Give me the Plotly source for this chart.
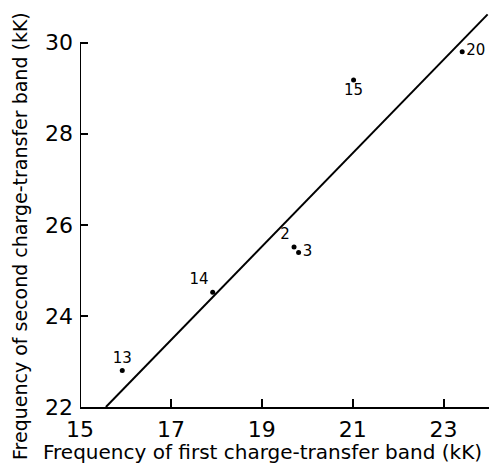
import plotly.graph_objects as go

# Data
labels = ["13", "14", "2", "3", "15", "20"]
first_band = [15.93, 17.92, 19.71, 19.81, 21.02, 23.41]
second_band = [22.80, 24.52, 25.51, 25.39, 29.18, 29.80]
label_pos = ["top center", "top left", "top left", "middle right", "bottom center", "middle right"]

fit_x = [15.57, 23.97]
fit_y = [22.0, 30.62]

x_ticks = [15, 17, 19, 21, 23]
y_ticks = [22, 24, 26, 28, 30]

FONT = "DejaVu Sans"

fig = go.Figure()
fig.add_trace(go.Scatter(x=fit_x, y=fit_y, mode="lines",
                         line=dict(color="black", width=2), showlegend=False))
fig.add_trace(go.Scatter(x=first_band, y=second_band, mode="markers+text",
                         marker=dict(color="black", size=5),
                         text=labels, textposition=label_pos,
                         textfont=dict(family=FONT, size=15, color="black"),
                         cliponaxis=False, showlegend=False))

# y axis line only up to 30
fig.add_shape(type="line", x0=15, x1=15, y0=22, y1=30, xref="x", yref="y",
              line=dict(color="black", width=2))

fig.update_layout(
    width=492, height=472,
    margin=dict(l=80, r=3, t=13, b=65),
    plot_bgcolor="white", paper_bgcolor="white",
    font=dict(family=FONT, color="black"),
    xaxis=dict(range=[15, 24], tickvals=x_ticks, ticks="inside", ticklen=8,
               tickwidth=1.5, tickcolor="black", showgrid=False, zeroline=False,
               showline=True, linecolor="black", linewidth=2,
               tickfont=dict(family=FONT, size=22), ticklabelstandoff=2),
    yaxis=dict(range=[22, 30.65], tickvals=y_ticks, ticks="inside", ticklen=8,
               tickwidth=1.5, tickcolor="black", showgrid=False, zeroline=False,
               showline=False,
               tickfont=dict(family=FONT, size=22), ticklabelstandoff=6),
    annotations=[
        dict(text="Frequency of first charge-transfer band (kK)", xref="paper", yref="paper",
             x=(262 - 80) / 409, y=-(452 - 407) / 394, xanchor="center", yanchor="middle",
             showarrow=False, font=dict(family=FONT, size=20)),
        dict(text="Frequency of second charge-transfer band (kK)", xref="paper", yref="paper",
             x=-(80 - 20) / 409, y=(407 - 236) / 394, xanchor="center", yanchor="middle",
             textangle=-90, showarrow=False, font=dict(family=FONT, size=19)),
    ],
)

fig.write_html("out.html", config={"displayModeBar": False},
               post_script="document.body.style.margin='0';document.body.style.overflow='hidden';")
